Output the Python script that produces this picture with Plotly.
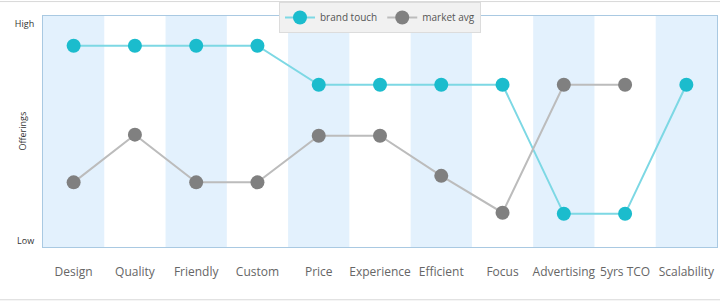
import plotly.graph_objects as go

categories = ["Design", "Quality", "Friendly", "Custom", "Price", "Experience",
              "Efficient", "Focus", "Advertising", "5yrs TCO", "Scalability"]
brand_touch = [9, 9, 9, 9, 7.2, 7.2, 7.2, 7.2, 1.25, 1.25, 7.2]
market_avg = [2.7, 4.9, 2.7, 2.7, 4.85, 4.85, 3.0, 1.3, 7.2, 7.2, None]
y_tick_vals = [0, 10]
y_tick_text = ["Low", "High"]
y_title = "Offerings"

xs = list(range(len(categories)))

fig = go.Figure()
fig.add_trace(go.Scatter(
    x=xs, y=brand_touch, name="brand touch", mode="lines+markers",
    line=dict(color="#7dd8e4", width=2),
    marker=dict(color="#1bbccd", size=14),
))
fig.add_trace(go.Scatter(
    x=xs, y=market_avg, name="market avg", mode="lines+markers",
    line=dict(color="#bcbcbc", width=2),
    marker=dict(color="#808080", size=14),
))

shapes = []
for i in range(0, len(categories), 2):
    shapes.append(dict(type="rect", xref="x", yref="paper", x0=i - 0.5, x1=i + 0.5,
                       y0=0, y1=1, fillcolor="#e3f1fd", line=dict(width=0), layer="below"))
# page frame lines
shapes.append(dict(type="line", xref="paper", yref="paper", x0=-43/674, x1=1 + 3/674,
                   y0=1 + 14.5/232, y1=1 + 14.5/232, line=dict(color="#d8d8d8", width=1)))
shapes.append(dict(type="line", xref="paper", yref="paper", x0=-43/674, x1=1 + 3/674,
                   y0=-53/232, y1=-53/232, line=dict(color="#d8d8d8", width=1)))

fig.update_layout(
    width=720, height=302,
    margin=dict(l=43, r=3, t=15, b=55),
    paper_bgcolor="white", plot_bgcolor="white",
    font=dict(family="Open Sans, Liberation Sans, sans-serif", color="#666666"),
    shapes=shapes,
    showlegend=True,
    legend=dict(orientation="h", x=0.5, xanchor="center", y=1 + 13/232, yanchor="top",
                bgcolor="#f1f1f1", bordercolor="#dcdcdc", borderwidth=1,
                font=dict(size=10, color="#555555"), itemwidth=30),
    annotations=[dict(text=y_title, textangle=-90, xref="paper", yref="paper",
                      x=(22 - 43) / 674, y=0.5, xanchor="center", yanchor="middle",
                      showarrow=False, font=dict(size=9, color="#333333"))],
    xaxis=dict(range=[-0.5, len(categories) - 0.5], tickvals=xs, ticktext=categories,
               showgrid=False, zeroline=False, showline=True, mirror=True,
               linecolor="#a9c9e2", linewidth=1, ticks="", ticklen=0,
               ticklabelstandoff=14,
               tickfont=dict(size=12, color="#666666"), fixedrange=True),
    yaxis=dict(range=[-0.28, 10.37], tickvals=y_tick_vals, ticktext=y_tick_text,
               showgrid=False, zeroline=False, showline=True, mirror=True,
               linecolor="#a9c9e2", linewidth=1, ticks="",
               ticklabelstandoff=6,
               tickfont=dict(size=9, color="#333333"),
               fixedrange=True),
)

fig.write_html("out.html")
